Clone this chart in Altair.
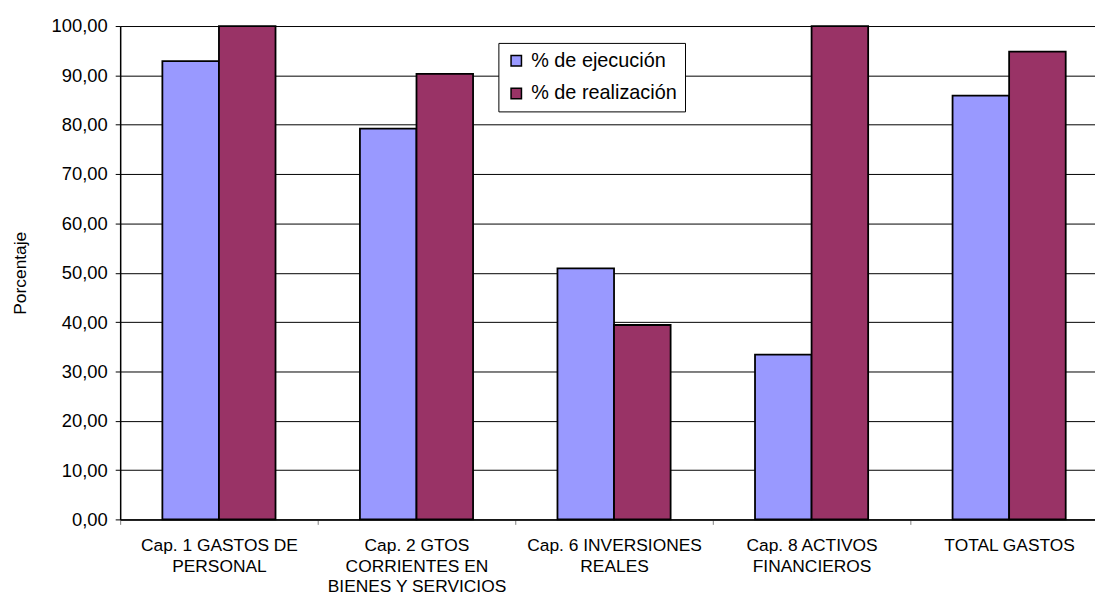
import altair as alt
import pandas as pd

categories = [
    "Cap. 1  GASTOS DE|PERSONAL",
    "Cap. 2   GTOS|CORRIENTES EN|BIENES Y SERVICIOS",
    "Cap. 6  INVERSIONES|REALES",
    "Cap. 8   ACTIVOS|FINANCIEROS",
    "TOTAL GASTOS",
]
series = ["% de ejecución", "% de realización"]
ejecucion = [92.9, 79.2, 50.9, 33.4, 85.9]
realizacion = [100.0, 90.3, 39.4, 100.0, 94.8]

rows = []
for c, a, b in zip(categories, ejecucion, realizacion):
    rows.append({"cat": c, "serie": series[0], "val": a})
    rows.append({"cat": c, "serie": series[1], "val": b})
df = pd.DataFrame(rows)

FONT = "Liberation Sans"

chart = alt.Chart(df).mark_bar(stroke="black", strokeWidth=1.8).encode(
    x=alt.X("cat:N", sort=categories, title=None,
            scale=alt.Scale(paddingInner=0, paddingOuter=0, range=[0, 995]),
            axis=alt.Axis(labelAngle=0, labelExpr="split(datum.label, '|')",
                          labelFont=FONT, labelFontSize=17.5, labelColor="black",
                          labelLineHeight=21, labelPadding=12, tickBand="extent",
                          tickSize=5, tickColor="#808080", domainColor="black",
                          domainWidth=1.5, grid=False, labelLimit=300)),
    xOffset=alt.XOffset("serie:N", sort=series,
                        scale=alt.Scale(paddingInner=0, paddingOuter=0.746)),
    y=alt.Y("val:Q", title="Porcentaje",
            scale=alt.Scale(domain=[0, 100], nice=False),
            axis=alt.Axis(values=list(range(0, 101, 10)),
                          labelExpr="replace(format(datum.value, '.2f'), '.', ',')",
                          labelFont=FONT, labelFontSize=18.5, labelColor="black",
                          labelPadding=8, tickSize=5, tickColor="black",
                          domainColor="black", domainWidth=1.5,
                          gridColor="black", gridWidth=1,
                          titleFont=FONT, titleFontSize=17.5, titleFontWeight="normal",
                          titleColor="black", titlePadding=22)),
    color=alt.Color("serie:N", sort=series, title=None,
                    scale=alt.Scale(domain=series, range=["#9999FF", "#993366"]),
                    legend=alt.Legend(orient="none", legendX=381, legendY=17,
                                      fillColor="white", strokeColor="black",
                                      padding=8, symbolType="square", symbolSize=110,
                                      symbolStrokeColor="black", symbolStrokeWidth=1.5,
                                      labelFont=FONT, labelFontSize=20, labelColor="black",
                                      rowPadding=13, labelOffset=5)),
).properties(
    width=982, height=497,
    autosize=alt.AutoSizeParams(type="none"),
    padding={"left": 113, "top": 16, "right": 0, "bottom": 76},
).configure_view(
    fill="#C0C0C0", stroke="#808080", strokeWidth=2
).configure(background="white")

chart.save("out.html", embed_options={"renderer": "svg", "actions": False})
